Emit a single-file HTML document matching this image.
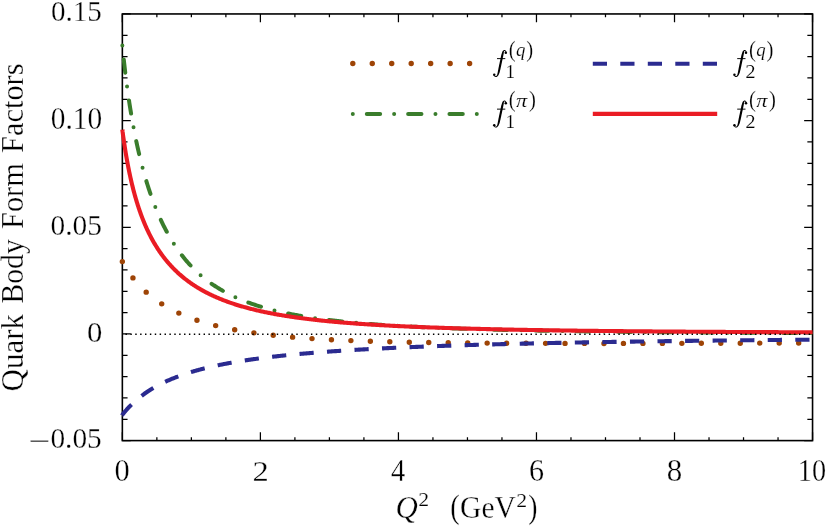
<!DOCTYPE html>
<html><head><meta charset="utf-8"><title>Quark Body Form Factors</title>
<style>html,body{margin:0;padding:0;background:#fff}svg{display:block;will-change:transform}text{font-family:"Liberation Serif",serif;fill:#000;stroke:#fff;stroke-width:0.28px}</style>
</head><body>
<svg width="829" height="527" viewBox="0 0 829 527">
<rect width="829" height="527" fill="#fff"/>
<g stroke="#000" fill="none">
<rect x="122.35" y="13.95" width="690.20" height="426.65" stroke-width="1.6"/>
<path d="M122.35,440.60v-8.4M122.35,13.95v8.4M156.86,440.60v-3.4M156.86,13.95v3.4M191.37,440.60v-3.4M191.37,13.95v3.4M225.88,440.60v-3.4M225.88,13.95v3.4M260.39,440.60v-8.4M260.39,13.95v8.4M294.90,440.60v-3.4M294.90,13.95v3.4M329.41,440.60v-3.4M329.41,13.95v3.4M363.92,440.60v-3.4M363.92,13.95v3.4M398.43,440.60v-8.4M398.43,13.95v8.4M432.94,440.60v-3.4M432.94,13.95v3.4M467.45,440.60v-3.4M467.45,13.95v3.4M501.96,440.60v-3.4M501.96,13.95v3.4M536.47,440.60v-8.4M536.47,13.95v8.4M570.98,440.60v-3.4M570.98,13.95v3.4M605.49,440.60v-3.4M605.49,13.95v3.4M640.00,440.60v-3.4M640.00,13.95v3.4M674.51,440.60v-8.4M674.51,13.95v8.4M709.02,440.60v-3.4M709.02,13.95v3.4M743.53,440.60v-3.4M743.53,13.95v3.4M778.04,440.60v-3.4M778.04,13.95v3.4M812.55,440.60v-8.4M812.55,13.95v8.4M122.35,440.60h8.4M812.55,440.60h-8.4M122.35,419.27h5.2M812.55,419.27h-5.2M122.35,397.94h5.2M812.55,397.94h-5.2M122.35,376.60h5.2M812.55,376.60h-5.2M122.35,355.27h5.2M812.55,355.27h-5.2M122.35,333.94h8.4M812.55,333.94h-8.4M122.35,312.61h5.2M812.55,312.61h-5.2M122.35,291.27h5.2M812.55,291.27h-5.2M122.35,269.94h5.2M812.55,269.94h-5.2M122.35,248.61h5.2M812.55,248.61h-5.2M122.35,227.28h8.4M812.55,227.28h-8.4M122.35,205.94h5.2M812.55,205.94h-5.2M122.35,184.61h5.2M812.55,184.61h-5.2M122.35,163.28h5.2M812.55,163.28h-5.2M122.35,141.94h5.2M812.55,141.94h-5.2M122.35,120.61h8.4M812.55,120.61h-8.4M122.35,99.28h5.2M812.55,99.28h-5.2M122.35,77.95h5.2M812.55,77.95h-5.2M122.35,56.62h5.2M812.55,56.62h-5.2M122.35,35.28h5.2M812.55,35.28h-5.2M122.35,13.95h8.4M812.55,13.95h-8.4" stroke-width="1.25"/>
</g>
<g fill="none" stroke-linejoin="round">
<path d="M122.35,261.61 L122.35,261.61 L122.36,261.62 L122.36,261.63 L122.37,261.65 L122.39,261.67 L122.40,261.70 L122.42,261.74 L122.44,261.77 L122.46,261.82 L122.49,261.87 L122.52,261.92 L122.55,261.98 L122.59,262.05 L122.63,262.12 L122.67,262.19 L122.71,262.27 L122.76,262.35 L122.81,262.44 L122.86,262.54 L122.92,262.64 L122.97,262.74 L123.03,262.85 L123.10,262.97 L123.16,263.08 L123.23,263.21 L123.30,263.34 L123.38,263.47 L123.46,263.61 L123.54,263.75 L123.62,263.90 L123.71,264.05 L123.80,264.20 L123.89,264.36 L123.98,264.53 L124.08,264.69 L124.18,264.87 L124.28,265.04 L124.39,265.23 L124.50,265.41 L124.61,265.60 L124.72,265.79 L124.84,265.99 L124.96,266.19 L125.08,266.40 L125.21,266.61 L125.34,266.82 L125.47,267.04 L125.60,267.26 L125.74,267.48 L125.88,267.71 L126.02,267.94 L126.17,268.17 L126.32,268.41 L126.47,268.65 L126.62,268.89 L126.78,269.14 L126.94,269.39 L127.10,269.64 L127.27,269.90 L127.44,270.16 L127.61,270.42 L127.78,270.68 L127.96,270.95 L128.14,271.22 L128.32,271.49 L128.50,271.77 L128.69,272.05 L128.88,272.33 L129.08,272.61 L129.27,272.89 L129.47,273.18 L129.67,273.47 L129.88,273.76 L130.09,274.05 L130.30,274.35 L130.51,274.65 L130.73,274.94 L130.94,275.25 L131.17,275.55 L131.39,275.85 L131.62,276.16 L131.85,276.47 L132.08,276.77 L132.32,277.09 L132.56,277.40 L132.80,277.71 L133.04,278.03 L133.29,278.34 L133.54,278.66 L133.79,278.98 L134.05,279.30 L134.31,279.62 L134.57,279.94 L134.83,280.26 L135.10,280.59 L135.37,280.91 L135.64,281.24 L135.92,281.56 L136.19,281.89 L136.48,282.22 L136.76,282.54 L137.05,282.87 L137.34,283.20 L137.63,283.53 L137.92,283.86 L138.22,284.19 L138.52,284.53 L138.83,284.86 L139.13,285.19 L139.44,285.52 L139.75,285.85 L140.07,286.19 L140.39,286.52 L140.71,286.85 L141.03,287.18 L141.36,287.52 L141.69,287.85 L142.02,288.18 L142.35,288.51 L142.69,288.85 L143.03,289.18 L143.38,289.51 L143.72,289.84 L144.07,290.18 L144.42,290.51 L144.78,290.84 L145.13,291.17 L145.49,291.50 L145.86,291.83 L146.22,292.16 L146.59,292.49 L146.96,292.82 L147.34,293.15 L147.71,293.48 L148.09,293.80 L148.48,294.13 L148.86,294.46 L149.25,294.78 L149.64,295.11 L150.04,295.43 L150.43,295.76 L150.83,296.08 L151.24,296.40 L151.64,296.72 L152.05,297.04 L152.46,297.36 L152.87,297.68 L153.29,298.00 L153.71,298.32 L154.13,298.64 L154.56,298.95 L154.99,299.27 L155.42,299.58 L155.85,299.90 L156.29,300.21 L156.73,300.52 L157.17,300.83 L157.61,301.14 L158.06,301.45 L158.51,301.75 L158.97,302.06 L159.42,302.37 L159.88,302.67 L160.34,302.97 L160.81,303.28 L161.28,303.58 L161.75,303.88 L162.22,304.18 L162.70,304.47 L163.17,304.77 L163.66,305.06 L164.14,305.36 L164.63,305.65 L165.12,305.94 L165.61,306.23 L166.11,306.52 L166.61,306.81 L167.11,307.10 L167.61,307.39 L168.12,307.67 L168.63,307.95 L169.14,308.24 L169.66,308.52 L170.18,308.80 L170.70,309.07 L171.22,309.35 L171.75,309.63 L172.28,309.90 L172.81,310.18 L173.35,310.45 L173.88,310.72 L174.42,310.99 L174.97,311.26 L175.51,311.52 L176.06,311.79 L176.62,312.05 L177.17,312.31 L177.73,312.58 L178.29,312.84 L178.85,313.09 L179.42,313.35 L179.99,313.61 L180.56,313.86 L181.14,314.12 L181.71,314.37 L182.30,314.62 L182.88,314.87 L183.46,315.12 L184.05,315.36 L184.65,315.61 L185.24,315.85 L185.84,316.09 L186.44,316.34 L187.04,316.58 L187.65,316.81 L188.26,317.05 L188.87,317.29 L189.48,317.52 L190.10,317.75 L190.72,317.99 L191.34,318.22 L191.97,318.44 L192.60,318.67 L193.23,318.90 L193.86,319.12 L194.50,319.35 L195.14,319.57 L195.78,319.79 L196.43,320.01 L197.08,320.23 L197.73,320.44 L198.38,320.66 L199.04,320.87 L199.70,321.08 L200.36,321.29 L201.03,321.50 L201.69,321.71 L202.37,321.92 L203.04,322.12 L203.72,322.33 L204.40,322.53 L205.08,322.73 L205.76,322.93 L206.45,323.13 L207.14,323.33 L207.84,323.53 L208.53,323.72 L209.23,323.91 L209.93,324.11 L210.64,324.30 L211.35,324.49 L212.06,324.67 L212.77,324.86 L213.49,325.05 L214.20,325.23 L214.93,325.41 L215.65,325.60 L216.38,325.78 L217.11,325.96 L217.84,326.13 L218.58,326.31 L219.32,326.48 L220.06,326.66 L220.80,326.83 L221.55,327.00 L222.30,327.17 L223.05,327.34 L223.81,327.51 L224.57,327.67 L225.33,327.84 L226.09,328.00 L226.86,328.17 L227.63,328.33 L228.40,328.49 L229.18,328.65 L229.96,328.80 L230.74,328.96 L231.52,329.11 L232.31,329.27 L233.10,329.42 L233.89,329.57 L234.69,329.72 L235.48,329.87 L236.29,330.02 L237.09,330.17 L237.90,330.31 L238.70,330.45 L239.52,330.60 L240.33,330.74 L241.15,330.88 L241.97,331.02 L242.79,331.16 L243.62,331.30 L244.45,331.43 L245.28,331.57 L246.12,331.70 L246.95,331.83 L247.79,331.96 L248.64,332.10 L249.48,332.22 L250.33,332.35 L251.19,332.48 L252.04,332.61 L252.90,332.73 L253.76,332.85 L254.62,332.98 L255.49,333.10 L256.36,333.22 L257.23,333.34 L258.10,333.46 L258.98,333.58 L259.86,333.69 L260.74,333.81 L261.63,333.92 L262.52,334.04 L263.41,334.15 L264.30,334.26 L265.20,334.37 L266.10,334.48 L267.00,334.59 L267.91,334.69 L268.81,334.80 L269.73,334.91 L270.64,335.01 L271.56,335.11 L272.48,335.22 L273.40,335.32 L274.32,335.42 L275.25,335.52 L276.18,335.62 L277.12,335.71 L278.05,335.81 L278.99,335.91 L279.93,336.00 L280.88,336.09 L281.83,336.19 L282.78,336.28 L283.73,336.37 L284.69,336.46 L285.65,336.55 L286.61,336.64 L287.57,336.73 L288.54,336.81 L289.51,336.90 L290.49,336.98 L291.46,337.07 L292.44,337.15 L293.42,337.23 L294.41,337.32 L295.39,337.40 L296.38,337.48 L297.38,337.56 L298.37,337.63 L299.37,337.71 L300.37,337.79 L301.38,337.86 L302.39,337.94 L303.40,338.01 L304.41,338.09 L305.42,338.16 L306.44,338.23 L307.46,338.30 L308.49,338.37 L309.51,338.44 L310.54,338.51 L311.58,338.58 L312.61,338.65 L313.65,338.72 L314.69,338.78 L315.74,338.85 L316.78,338.91 L317.83,338.98 L318.88,339.04 L319.94,339.10 L321.00,339.16 L322.06,339.23 L323.12,339.29 L324.19,339.35 L325.26,339.41 L326.33,339.46 L327.41,339.52 L328.48,339.58 L329.56,339.64 L330.65,339.69 L331.73,339.75 L332.82,339.80 L333.91,339.86 L335.01,339.91 L336.11,339.96 L337.21,340.01 L338.31,340.07 L339.42,340.12 L340.53,340.17 L341.64,340.22 L342.75,340.27 L343.87,340.32 L344.99,340.36 L346.11,340.41 L347.24,340.46 L348.37,340.50 L349.50,340.55 L350.63,340.60 L351.77,340.64 L352.91,340.68 L354.05,340.73 L355.20,340.77 L356.35,340.81 L357.50,340.86 L358.65,340.90 L359.81,340.94 L360.97,340.98 L362.13,341.02 L363.30,341.06 L364.46,341.10 L365.64,341.14 L366.81,341.17 L367.99,341.21 L369.17,341.25 L370.35,341.29 L371.53,341.32 L372.72,341.36 L373.91,341.39 L375.11,341.43 L376.30,341.46 L377.50,341.50 L378.70,341.53 L379.91,341.56 L381.12,341.59 L382.33,341.63 L383.54,341.66 L384.76,341.69 L385.98,341.72 L387.20,341.75 L388.42,341.78 L389.65,341.81 L390.88,341.84 L392.11,341.87 L393.35,341.90 L394.59,341.92 L395.83,341.95 L397.07,341.98 L398.32,342.01 L399.57,342.03 L400.83,342.06 L402.08,342.09 L403.34,342.11 L404.60,342.14 L405.87,342.16 L407.13,342.19 L408.40,342.21 L409.68,342.23 L410.95,342.26 L412.23,342.28 L413.51,342.30 L414.79,342.32 L416.08,342.35 L417.37,342.37 L418.66,342.39 L419.96,342.41 L421.26,342.43 L422.56,342.45 L423.86,342.47 L425.17,342.49 L426.48,342.51 L427.79,342.53 L429.11,342.55 L430.42,342.57 L431.74,342.59 L433.07,342.61 L434.39,342.62 L435.72,342.64 L437.06,342.66 L438.39,342.67 L439.73,342.69 L441.07,342.71 L442.41,342.72 L443.76,342.74 L445.11,342.76 L446.46,342.77 L447.81,342.79 L449.17,342.80 L450.53,342.82 L451.90,342.83 L453.26,342.85 L454.63,342.86 L456.00,342.87 L457.38,342.89 L458.75,342.90 L460.13,342.91 L461.52,342.93 L462.90,342.94 L464.29,342.95 L465.68,342.96 L467.08,342.98 L468.47,342.99 L469.87,343.00 L471.28,343.01 L472.68,343.02 L474.09,343.03 L475.50,343.04 L476.92,343.05 L478.33,343.06 L479.75,343.07 L481.17,343.08 L482.60,343.09 L484.03,343.10 L485.46,343.11 L486.89,343.12 L488.33,343.13 L489.77,343.14 L491.21,343.15 L492.66,343.16 L494.10,343.17 L495.55,343.17 L497.01,343.18 L498.46,343.19 L499.92,343.20 L501.39,343.21 L502.85,343.21 L504.32,343.22 L505.79,343.23 L507.26,343.24 L508.74,343.24 L510.22,343.25 L511.70,343.26 L513.18,343.26 L514.67,343.27 L516.16,343.27 L517.65,343.28 L519.15,343.29 L520.65,343.29 L522.15,343.30 L523.66,343.30 L525.16,343.31 L526.67,343.31 L528.19,343.32 L529.70,343.32 L531.22,343.33 L532.74,343.33 L534.27,343.34 L535.79,343.34 L537.32,343.35 L538.86,343.35 L540.39,343.35 L541.93,343.36 L543.47,343.36 L545.01,343.37 L546.56,343.37 L548.11,343.37 L549.66,343.38 L551.22,343.38 L552.78,343.38 L554.34,343.38 L555.90,343.39 L557.47,343.39 L559.04,343.39 L560.61,343.40 L562.18,343.40 L563.76,343.40 L565.34,343.40 L566.93,343.41 L568.51,343.41 L570.10,343.41 L571.69,343.41 L573.29,343.41 L574.89,343.41 L576.49,343.42 L578.09,343.42 L579.70,343.42 L581.31,343.42 L582.92,343.42 L584.53,343.42 L586.15,343.42 L587.77,343.42 L589.39,343.43 L591.02,343.43 L592.65,343.43 L594.28,343.43 L595.91,343.43 L597.55,343.43 L599.19,343.43 L600.83,343.43 L602.48,343.43 L604.13,343.43 L605.78,343.43 L607.43,343.43 L609.09,343.43 L610.75,343.43 L612.41,343.43 L614.08,343.43 L615.75,343.43 L617.42,343.43 L619.09,343.43 L620.77,343.43 L622.45,343.43 L624.13,343.42 L625.81,343.42 L627.50,343.42 L629.19,343.42 L630.89,343.42 L632.58,343.42 L634.28,343.42 L635.99,343.42 L637.69,343.41 L639.40,343.41 L641.11,343.41 L642.82,343.41 L644.54,343.41 L646.26,343.41 L647.98,343.40 L649.70,343.40 L651.43,343.40 L653.16,343.40 L654.90,343.39 L656.63,343.39 L658.37,343.39 L660.11,343.39 L661.86,343.38 L663.60,343.38 L665.36,343.38 L667.11,343.38 L668.86,343.37 L670.62,343.37 L672.38,343.37 L674.15,343.36 L675.92,343.36 L677.69,343.36 L679.46,343.35 L681.23,343.35 L683.01,343.35 L684.79,343.34 L686.58,343.34 L688.37,343.33 L690.15,343.33 L691.95,343.33 L693.74,343.32 L695.54,343.32 L697.34,343.31 L699.15,343.31 L700.95,343.31 L702.76,343.30 L704.57,343.30 L706.39,343.29 L708.21,343.29 L710.03,343.28 L711.85,343.28 L713.68,343.27 L715.51,343.27 L717.34,343.26 L719.18,343.26 L721.01,343.25 L722.85,343.25 L724.70,343.24 L726.54,343.23 L728.39,343.23 L730.24,343.22 L732.10,343.22 L733.96,343.21 L735.82,343.20 L737.68,343.20 L739.55,343.19 L741.42,343.18 L743.29,343.18 L745.16,343.17 L747.04,343.16 L748.92,343.16 L750.80,343.15 L752.69,343.14 L754.58,343.14 L756.47,343.13 L758.36,343.12 L760.26,343.11 L762.16,343.11 L764.06,343.10 L765.97,343.09 L767.88,343.08 L769.79,343.08 L771.70,343.07 L773.62,343.06 L775.54,343.05 L777.46,343.04 L779.39,343.03 L781.31,343.03 L783.25,343.02 L785.18,343.01 L787.12,343.00 L789.06,342.99 L791.00,342.98 L792.94,342.97 L794.89,342.96 L796.84,342.95 L798.80,342.94 L800.75,342.93 L802.71,342.92 L804.67,342.91 L806.64,342.90 L808.61,342.89 L810.58,342.88 L812.55,342.87" stroke="#9e4406" stroke-width="5.4" stroke-linecap="round" stroke-dasharray="0 19.47"/>
<path d="M122.35,414.76 L122.35,414.76 L122.36,414.76 L122.36,414.75 L122.37,414.73 L122.39,414.72 L122.40,414.70 L122.42,414.68 L122.44,414.65 L122.46,414.62 L122.49,414.59 L122.52,414.55 L122.55,414.51 L122.59,414.46 L122.63,414.41 L122.67,414.36 L122.71,414.31 L122.76,414.25 L122.81,414.19 L122.86,414.12 L122.92,414.05 L122.97,413.98 L123.03,413.91 L123.10,413.83 L123.16,413.75 L123.23,413.66 L123.30,413.57 L123.38,413.48 L123.46,413.38 L123.54,413.29 L123.62,413.18 L123.71,413.08 L123.80,412.97 L123.89,412.86 L123.98,412.75 L124.08,412.63 L124.18,412.51 L124.28,412.38 L124.39,412.26 L124.50,412.13 L124.61,412.00 L124.72,411.86 L124.84,411.72 L124.96,411.58 L125.08,411.44 L125.21,411.29 L125.34,411.14 L125.47,410.99 L125.60,410.83 L125.74,410.68 L125.88,410.52 L126.02,410.35 L126.17,410.19 L126.32,410.02 L126.47,409.85 L126.62,409.68 L126.78,409.50 L126.94,409.33 L127.10,409.15 L127.27,408.96 L127.44,408.78 L127.61,408.59 L127.78,408.40 L127.96,408.21 L128.14,408.02 L128.32,407.83 L128.50,407.63 L128.69,407.43 L128.88,407.23 L129.08,407.03 L129.27,406.82 L129.47,406.62 L129.67,406.41 L129.88,406.20 L130.09,405.99 L130.30,405.77 L130.51,405.56 L130.73,405.34 L130.94,405.12 L131.17,404.90 L131.39,404.68 L131.62,404.46 L131.85,404.23 L132.08,404.01 L132.32,403.78 L132.56,403.55 L132.80,403.33 L133.04,403.10 L133.29,402.86 L133.54,402.63 L133.79,402.40 L134.05,402.16 L134.31,401.93 L134.57,401.69 L134.83,401.45 L135.10,401.21 L135.37,400.97 L135.64,400.73 L135.92,400.49 L136.19,400.25 L136.48,400.01 L136.76,399.76 L137.05,399.52 L137.34,399.27 L137.63,399.03 L137.92,398.78 L138.22,398.53 L138.52,398.29 L138.83,398.04 L139.13,397.79 L139.44,397.54 L139.75,397.29 L140.07,397.04 L140.39,396.80 L140.71,396.55 L141.03,396.30 L141.36,396.04 L141.69,395.79 L142.02,395.54 L142.35,395.29 L142.69,395.04 L143.03,394.79 L143.38,394.54 L143.72,394.29 L144.07,394.03 L144.42,393.78 L144.78,393.53 L145.13,393.28 L145.49,393.03 L145.86,392.78 L146.22,392.53 L146.59,392.28 L146.96,392.02 L147.34,391.77 L147.71,391.52 L148.09,391.27 L148.48,391.02 L148.86,390.77 L149.25,390.52 L149.64,390.27 L150.04,390.02 L150.43,389.78 L150.83,389.53 L151.24,389.28 L151.64,389.03 L152.05,388.79 L152.46,388.54 L152.87,388.29 L153.29,388.05 L153.71,387.80 L154.13,387.56 L154.56,387.31 L154.99,387.07 L155.42,386.82 L155.85,386.58 L156.29,386.34 L156.73,386.10 L157.17,385.86 L157.61,385.62 L158.06,385.38 L158.51,385.14 L158.97,384.90 L159.42,384.66 L159.88,384.42 L160.34,384.19 L160.81,383.95 L161.28,383.71 L161.75,383.48 L162.22,383.25 L162.70,383.01 L163.17,382.78 L163.66,382.55 L164.14,382.32 L164.63,382.09 L165.12,381.86 L165.61,381.63 L166.11,381.40 L166.61,381.17 L167.11,380.95 L167.61,380.72 L168.12,380.49 L168.63,380.27 L169.14,380.05 L169.66,379.82 L170.18,379.60 L170.70,379.38 L171.22,379.16 L171.75,378.94 L172.28,378.72 L172.81,378.51 L173.35,378.29 L173.88,378.07 L174.42,377.86 L174.97,377.65 L175.51,377.43 L176.06,377.22 L176.62,377.01 L177.17,376.80 L177.73,376.59 L178.29,376.38 L178.85,376.17 L179.42,375.96 L179.99,375.76 L180.56,375.55 L181.14,375.35 L181.71,375.14 L182.30,374.94 L182.88,374.74 L183.46,374.54 L184.05,374.34 L184.65,374.14 L185.24,373.94 L185.84,373.74 L186.44,373.55 L187.04,373.35 L187.65,373.16 L188.26,372.96 L188.87,372.77 L189.48,372.58 L190.10,372.39 L190.72,372.20 L191.34,372.01 L191.97,371.82 L192.60,371.63 L193.23,371.45 L193.86,371.26 L194.50,371.08 L195.14,370.89 L195.78,370.71 L196.43,370.53 L197.08,370.35 L197.73,370.17 L198.38,369.99 L199.04,369.81 L199.70,369.63 L200.36,369.46 L201.03,369.28 L201.69,369.11 L202.37,368.93 L203.04,368.76 L203.72,368.59 L204.40,368.41 L205.08,368.24 L205.76,368.07 L206.45,367.91 L207.14,367.74 L207.84,367.57 L208.53,367.41 L209.23,367.24 L209.93,367.08 L210.64,366.91 L211.35,366.75 L212.06,366.59 L212.77,366.43 L213.49,366.27 L214.20,366.11 L214.93,365.95 L215.65,365.79 L216.38,365.63 L217.11,365.48 L217.84,365.32 L218.58,365.17 L219.32,365.02 L220.06,364.86 L220.80,364.71 L221.55,364.56 L222.30,364.41 L223.05,364.26 L223.81,364.11 L224.57,363.97 L225.33,363.82 L226.09,363.67 L226.86,363.53 L227.63,363.38 L228.40,363.24 L229.18,363.10 L229.96,362.95 L230.74,362.81 L231.52,362.67 L232.31,362.53 L233.10,362.39 L233.89,362.25 L234.69,362.12 L235.48,361.98 L236.29,361.84 L237.09,361.71 L237.90,361.57 L238.70,361.44 L239.52,361.31 L240.33,361.17 L241.15,361.04 L241.97,360.91 L242.79,360.78 L243.62,360.65 L244.45,360.52 L245.28,360.40 L246.12,360.27 L246.95,360.14 L247.79,360.02 L248.64,359.89 L249.48,359.77 L250.33,359.64 L251.19,359.52 L252.04,359.40 L252.90,359.28 L253.76,359.15 L254.62,359.03 L255.49,358.91 L256.36,358.80 L257.23,358.68 L258.10,358.56 L258.98,358.44 L259.86,358.33 L260.74,358.21 L261.63,358.10 L262.52,357.98 L263.41,357.87 L264.30,357.75 L265.20,357.64 L266.10,357.53 L267.00,357.42 L267.91,357.31 L268.81,357.20 L269.73,357.09 L270.64,356.98 L271.56,356.87 L272.48,356.77 L273.40,356.66 L274.32,356.55 L275.25,356.45 L276.18,356.34 L277.12,356.24 L278.05,356.13 L278.99,356.03 L279.93,355.93 L280.88,355.82 L281.83,355.72 L282.78,355.62 L283.73,355.52 L284.69,355.42 L285.65,355.32 L286.61,355.22 L287.57,355.13 L288.54,355.03 L289.51,354.93 L290.49,354.84 L291.46,354.74 L292.44,354.64 L293.42,354.55 L294.41,354.45 L295.39,354.36 L296.38,354.27 L297.38,354.18 L298.37,354.08 L299.37,353.99 L300.37,353.90 L301.38,353.81 L302.39,353.72 L303.40,353.63 L304.41,353.54 L305.42,353.45 L306.44,353.36 L307.46,353.28 L308.49,353.19 L309.51,353.10 L310.54,353.02 L311.58,352.93 L312.61,352.85 L313.65,352.76 L314.69,352.68 L315.74,352.59 L316.78,352.51 L317.83,352.43 L318.88,352.34 L319.94,352.26 L321.00,352.18 L322.06,352.10 L323.12,352.02 L324.19,351.94 L325.26,351.86 L326.33,351.78 L327.41,351.70 L328.48,351.62 L329.56,351.55 L330.65,351.47 L331.73,351.39 L332.82,351.32 L333.91,351.24 L335.01,351.16 L336.11,351.09 L337.21,351.01 L338.31,350.94 L339.42,350.87 L340.53,350.79 L341.64,350.72 L342.75,350.65 L343.87,350.57 L344.99,350.50 L346.11,350.43 L347.24,350.36 L348.37,350.29 L349.50,350.22 L350.63,350.15 L351.77,350.08 L352.91,350.01 L354.05,349.94 L355.20,349.87 L356.35,349.80 L357.50,349.74 L358.65,349.67 L359.81,349.60 L360.97,349.54 L362.13,349.47 L363.30,349.40 L364.46,349.34 L365.64,349.27 L366.81,349.21 L367.99,349.15 L369.17,349.08 L370.35,349.02 L371.53,348.95 L372.72,348.89 L373.91,348.83 L375.11,348.77 L376.30,348.70 L377.50,348.64 L378.70,348.58 L379.91,348.52 L381.12,348.46 L382.33,348.40 L383.54,348.34 L384.76,348.28 L385.98,348.22 L387.20,348.16 L388.42,348.10 L389.65,348.05 L390.88,347.99 L392.11,347.93 L393.35,347.87 L394.59,347.82 L395.83,347.76 L397.07,347.70 L398.32,347.65 L399.57,347.59 L400.83,347.54 L402.08,347.48 L403.34,347.43 L404.60,347.37 L405.87,347.32 L407.13,347.26 L408.40,347.21 L409.68,347.16 L410.95,347.10 L412.23,347.05 L413.51,347.00 L414.79,346.94 L416.08,346.89 L417.37,346.84 L418.66,346.79 L419.96,346.74 L421.26,346.69 L422.56,346.64 L423.86,346.59 L425.17,346.54 L426.48,346.49 L427.79,346.44 L429.11,346.39 L430.42,346.34 L431.74,346.29 L433.07,346.24 L434.39,346.19 L435.72,346.14 L437.06,346.10 L438.39,346.05 L439.73,346.00 L441.07,345.96 L442.41,345.91 L443.76,345.86 L445.11,345.82 L446.46,345.77 L447.81,345.72 L449.17,345.68 L450.53,345.63 L451.90,345.59 L453.26,345.54 L454.63,345.50 L456.00,345.45 L457.38,345.41 L458.75,345.37 L460.13,345.32 L461.52,345.28 L462.90,345.24 L464.29,345.19 L465.68,345.15 L467.08,345.11 L468.47,345.07 L469.87,345.02 L471.28,344.98 L472.68,344.94 L474.09,344.90 L475.50,344.86 L476.92,344.82 L478.33,344.78 L479.75,344.74 L481.17,344.70 L482.60,344.66 L484.03,344.62 L485.46,344.58 L486.89,344.54 L488.33,344.50 L489.77,344.46 L491.21,344.42 L492.66,344.38 L494.10,344.34 L495.55,344.30 L497.01,344.27 L498.46,344.23 L499.92,344.19 L501.39,344.15 L502.85,344.12 L504.32,344.08 L505.79,344.04 L507.26,344.00 L508.74,343.97 L510.22,343.93 L511.70,343.90 L513.18,343.86 L514.67,343.82 L516.16,343.79 L517.65,343.75 L519.15,343.72 L520.65,343.68 L522.15,343.65 L523.66,343.61 L525.16,343.58 L526.67,343.54 L528.19,343.51 L529.70,343.47 L531.22,343.44 L532.74,343.41 L534.27,343.37 L535.79,343.34 L537.32,343.31 L538.86,343.27 L540.39,343.24 L541.93,343.21 L543.47,343.18 L545.01,343.14 L546.56,343.11 L548.11,343.08 L549.66,343.05 L551.22,343.02 L552.78,342.98 L554.34,342.95 L555.90,342.92 L557.47,342.89 L559.04,342.86 L560.61,342.83 L562.18,342.80 L563.76,342.77 L565.34,342.74 L566.93,342.71 L568.51,342.68 L570.10,342.65 L571.69,342.62 L573.29,342.59 L574.89,342.56 L576.49,342.53 L578.09,342.50 L579.70,342.47 L581.31,342.44 L582.92,342.41 L584.53,342.38 L586.15,342.36 L587.77,342.33 L589.39,342.30 L591.02,342.27 L592.65,342.24 L594.28,342.22 L595.91,342.19 L597.55,342.16 L599.19,342.13 L600.83,342.11 L602.48,342.08 L604.13,342.05 L605.78,342.02 L607.43,342.00 L609.09,341.97 L610.75,341.94 L612.41,341.92 L614.08,341.89 L615.75,341.87 L617.42,341.84 L619.09,341.81 L620.77,341.79 L622.45,341.76 L624.13,341.74 L625.81,341.71 L627.50,341.69 L629.19,341.66 L630.89,341.64 L632.58,341.61 L634.28,341.59 L635.99,341.56 L637.69,341.54 L639.40,341.51 L641.11,341.49 L642.82,341.46 L644.54,341.44 L646.26,341.42 L647.98,341.39 L649.70,341.37 L651.43,341.35 L653.16,341.32 L654.90,341.30 L656.63,341.28 L658.37,341.25 L660.11,341.23 L661.86,341.21 L663.60,341.18 L665.36,341.16 L667.11,341.14 L668.86,341.12 L670.62,341.09 L672.38,341.07 L674.15,341.05 L675.92,341.03 L677.69,341.00 L679.46,340.98 L681.23,340.96 L683.01,340.94 L684.79,340.92 L686.58,340.90 L688.37,340.87 L690.15,340.85 L691.95,340.83 L693.74,340.81 L695.54,340.79 L697.34,340.77 L699.15,340.75 L700.95,340.73 L702.76,340.71 L704.57,340.69 L706.39,340.67 L708.21,340.64 L710.03,340.62 L711.85,340.60 L713.68,340.58 L715.51,340.56 L717.34,340.54 L719.18,340.52 L721.01,340.51 L722.85,340.49 L724.70,340.47 L726.54,340.45 L728.39,340.43 L730.24,340.41 L732.10,340.39 L733.96,340.37 L735.82,340.35 L737.68,340.33 L739.55,340.31 L741.42,340.29 L743.29,340.28 L745.16,340.26 L747.04,340.24 L748.92,340.22 L750.80,340.20 L752.69,340.18 L754.58,340.17 L756.47,340.15 L758.36,340.13 L760.26,340.11 L762.16,340.09 L764.06,340.08 L765.97,340.06 L767.88,340.04 L769.79,340.02 L771.70,340.01 L773.62,339.99 L775.54,339.97 L777.46,339.95 L779.39,339.94 L781.31,339.92 L783.25,339.90 L785.18,339.89 L787.12,339.87 L789.06,339.85 L791.00,339.83 L792.94,339.82 L794.89,339.80 L796.84,339.79 L798.80,339.77 L800.75,339.75 L802.71,339.74 L804.67,339.72 L806.64,339.70 L808.61,339.69 L810.58,339.67 L812.55,339.66" stroke="#2b2b90" stroke-width="4.1" stroke-dasharray="14.23 13.33" stroke-dashoffset="0.55"/>
<path d="M122.35,45.50 L122.35,45.51 L122.36,45.56 L122.36,45.63 L122.37,45.73 L122.39,45.86 L122.40,46.02 L122.42,46.21 L122.44,46.43 L122.46,46.68 L122.49,46.95 L122.52,47.26 L122.55,47.59 L122.59,47.95 L122.63,48.33 L122.67,48.75 L122.71,49.19 L122.76,49.66 L122.81,50.15 L122.86,50.67 L122.92,51.22 L122.97,51.79 L123.03,52.39 L123.10,53.01 L123.16,53.66 L123.23,54.33 L123.30,55.02 L123.38,55.74 L123.46,56.48 L123.54,57.24 L123.62,58.03 L123.71,58.83 L123.80,59.66 L123.89,60.51 L123.98,61.37 L124.08,62.26 L124.18,63.17 L124.28,64.09 L124.39,65.04 L124.50,66.00 L124.61,66.98 L124.72,67.98 L124.84,68.99 L124.96,70.02 L125.08,71.06 L125.21,72.12 L125.34,73.19 L125.47,74.28 L125.60,75.38 L125.74,76.50 L125.88,77.62 L126.02,78.76 L126.17,79.91 L126.32,81.08 L126.47,82.25 L126.62,83.44 L126.78,84.63 L126.94,85.84 L127.10,87.05 L127.27,88.27 L127.44,89.51 L127.61,90.75 L127.78,91.99 L127.96,93.25 L128.14,94.51 L128.32,95.78 L128.50,97.06 L128.69,98.34 L128.88,99.63 L129.08,100.92 L129.27,102.22 L129.47,103.52 L129.67,104.83 L129.88,106.14 L130.09,107.45 L130.30,108.77 L130.51,110.09 L130.73,111.42 L130.94,112.75 L131.17,114.08 L131.39,115.41 L131.62,116.74 L131.85,118.08 L132.08,119.41 L132.32,120.75 L132.56,122.09 L132.80,123.43 L133.04,124.77 L133.29,126.11 L133.54,127.46 L133.79,128.80 L134.05,130.14 L134.31,131.48 L134.57,132.82 L134.83,134.16 L135.10,135.50 L135.37,136.83 L135.64,138.17 L135.92,139.50 L136.19,140.84 L136.48,142.17 L136.76,143.50 L137.05,144.82 L137.34,146.15 L137.63,147.47 L137.92,148.79 L138.22,150.11 L138.52,151.42 L138.83,152.73 L139.13,154.04 L139.44,155.35 L139.75,156.65 L140.07,157.95 L140.39,159.24 L140.71,160.54 L141.03,161.82 L141.36,163.11 L141.69,164.39 L142.02,165.66 L142.35,166.94 L142.69,168.20 L143.03,169.47 L143.38,170.73 L143.72,171.98 L144.07,173.23 L144.42,174.48 L144.78,175.72 L145.13,176.96 L145.49,178.19 L145.86,179.41 L146.22,180.64 L146.59,181.85 L146.96,183.06 L147.34,184.27 L147.71,185.47 L148.09,186.67 L148.48,187.86 L148.86,189.04 L149.25,190.22 L149.64,191.39 L150.04,192.56 L150.43,193.73 L150.83,194.88 L151.24,196.03 L151.64,197.18 L152.05,198.32 L152.46,199.45 L152.87,200.58 L153.29,201.70 L153.71,202.82 L154.13,203.92 L154.56,205.03 L154.99,206.13 L155.42,207.22 L155.85,208.30 L156.29,209.38 L156.73,210.45 L157.17,211.52 L157.61,212.58 L158.06,213.63 L158.51,214.68 L158.97,215.72 L159.42,216.75 L159.88,217.78 L160.34,218.80 L160.81,219.82 L161.28,220.83 L161.75,221.83 L162.22,222.82 L162.70,223.81 L163.17,224.79 L163.66,225.77 L164.14,226.74 L164.63,227.70 L165.12,228.66 L165.61,229.61 L166.11,230.55 L166.61,231.49 L167.11,232.42 L167.61,233.34 L168.12,234.26 L168.63,235.17 L169.14,236.07 L169.66,236.97 L170.18,237.86 L170.70,238.75 L171.22,239.62 L171.75,240.49 L172.28,241.36 L172.81,242.22 L173.35,243.07 L173.88,243.91 L174.42,244.75 L174.97,245.58 L175.51,246.41 L176.06,247.23 L176.62,248.04 L177.17,248.85 L177.73,249.65 L178.29,250.44 L178.85,251.23 L179.42,252.01 L179.99,252.79 L180.56,253.55 L181.14,254.32 L181.71,255.07 L182.30,255.82 L182.88,256.56 L183.46,257.30 L184.05,258.03 L184.65,258.76 L185.24,259.48 L185.84,260.19 L186.44,260.90 L187.04,261.60 L187.65,262.29 L188.26,262.98 L188.87,263.66 L189.48,264.34 L190.10,265.01 L190.72,265.68 L191.34,266.34 L191.97,266.99 L192.60,267.64 L193.23,268.28 L193.86,268.92 L194.50,269.55 L195.14,270.17 L195.78,270.79 L196.43,271.40 L197.08,272.01 L197.73,272.62 L198.38,273.21 L199.04,273.81 L199.70,274.39 L200.36,274.97 L201.03,275.55 L201.69,276.12 L202.37,276.69 L203.04,277.25 L203.72,277.80 L204.40,278.35 L205.08,278.89 L205.76,279.43 L206.45,279.97 L207.14,280.50 L207.84,281.02 L208.53,281.54 L209.23,282.06 L209.93,282.57 L210.64,283.07 L211.35,283.57 L212.06,284.07 L212.77,284.56 L213.49,285.04 L214.20,285.52 L214.93,286.00 L215.65,286.47 L216.38,286.94 L217.11,287.40 L217.84,287.86 L218.58,288.32 L219.32,288.77 L220.06,289.21 L220.80,289.65 L221.55,290.09 L222.30,290.52 L223.05,290.95 L223.81,291.37 L224.57,291.79 L225.33,292.21 L226.09,292.62 L226.86,293.03 L227.63,293.43 L228.40,293.83 L229.18,294.23 L229.96,294.62 L230.74,295.01 L231.52,295.39 L232.31,295.77 L233.10,296.15 L233.89,296.52 L234.69,296.89 L235.48,297.25 L236.29,297.62 L237.09,297.97 L237.90,298.33 L238.70,298.68 L239.52,299.03 L240.33,299.37 L241.15,299.71 L241.97,300.05 L242.79,300.38 L243.62,300.71 L244.45,301.04 L245.28,301.36 L246.12,301.68 L246.95,302.00 L247.79,302.31 L248.64,302.62 L249.48,302.93 L250.33,303.24 L251.19,303.54 L252.04,303.84 L252.90,304.13 L253.76,304.42 L254.62,304.71 L255.49,305.00 L256.36,305.28 L257.23,305.56 L258.10,305.84 L258.98,306.12 L259.86,306.39 L260.74,306.66 L261.63,306.92 L262.52,307.19 L263.41,307.45 L264.30,307.71 L265.20,307.96 L266.10,308.22 L267.00,308.47 L267.91,308.72 L268.81,308.96 L269.73,309.21 L270.64,309.45 L271.56,309.68 L272.48,309.92 L273.40,310.15 L274.32,310.38 L275.25,310.61 L276.18,310.84 L277.12,311.06 L278.05,311.29 L278.99,311.51 L279.93,311.72 L280.88,311.94 L281.83,312.15 L282.78,312.36 L283.73,312.57 L284.69,312.78 L285.65,312.98 L286.61,313.18 L287.57,313.38 L288.54,313.58 L289.51,313.78 L290.49,313.97 L291.46,314.16 L292.44,314.35 L293.42,314.54 L294.41,314.73 L295.39,314.91 L296.38,315.09 L297.38,315.28 L298.37,315.45 L299.37,315.63 L300.37,315.81 L301.38,315.98 L302.39,316.15 L303.40,316.32 L304.41,316.49 L305.42,316.66 L306.44,316.82 L307.46,316.98 L308.49,317.15 L309.51,317.31 L310.54,317.46 L311.58,317.62 L312.61,317.78 L313.65,317.93 L314.69,318.08 L315.74,318.23 L316.78,318.38 L317.83,318.53 L318.88,318.67 L319.94,318.82 L321.00,318.96 L322.06,319.10 L323.12,319.24 L324.19,319.38 L325.26,319.52 L326.33,319.65 L327.41,319.79 L328.48,319.92 L329.56,320.05 L330.65,320.18 L331.73,320.31 L332.82,320.44 L333.91,320.57 L335.01,320.69 L336.11,320.82 L337.21,320.94 L338.31,321.06 L339.42,321.18 L340.53,321.30 L341.64,321.42 L342.75,321.54 L343.87,321.65 L344.99,321.77 L346.11,321.88 L347.24,321.99 L348.37,322.10 L349.50,322.21 L350.63,322.32 L351.77,322.43 L352.91,322.54 L354.05,322.64 L355.20,322.75 L356.35,322.85 L357.50,322.95 L358.65,323.05 L359.81,323.15 L360.97,323.25 L362.13,323.35 L363.30,323.45 L364.46,323.55 L365.64,323.64 L366.81,323.74 L367.99,323.83 L369.17,323.92 L370.35,324.02 L371.53,324.11 L372.72,324.20 L373.91,324.29 L375.11,324.38 L376.30,324.46 L377.50,324.55 L378.70,324.64 L379.91,324.72 L381.12,324.80 L382.33,324.89 L383.54,324.97 L384.76,325.05 L385.98,325.13 L387.20,325.21 L388.42,325.29 L389.65,325.37 L390.88,325.45 L392.11,325.53 L393.35,325.60 L394.59,325.68 L395.83,325.75 L397.07,325.83 L398.32,325.90 L399.57,325.97 L400.83,326.04 L402.08,326.12 L403.34,326.19 L404.60,326.26 L405.87,326.33 L407.13,326.39 L408.40,326.46 L409.68,326.53 L410.95,326.60 L412.23,326.66 L413.51,326.73 L414.79,326.79 L416.08,326.86 L417.37,326.92 L418.66,326.98 L419.96,327.05 L421.26,327.11 L422.56,327.17 L423.86,327.23 L425.17,327.29 L426.48,327.35 L427.79,327.41 L429.11,327.46 L430.42,327.52 L431.74,327.58 L433.07,327.64 L434.39,327.69 L435.72,327.75 L437.06,327.80 L438.39,327.86 L439.73,327.91 L441.07,327.96 L442.41,328.02 L443.76,328.07 L445.11,328.12 L446.46,328.17 L447.81,328.22 L449.17,328.28 L450.53,328.33 L451.90,328.37 L453.26,328.42 L454.63,328.47 L456.00,328.52 L457.38,328.57 L458.75,328.62 L460.13,328.66 L461.52,328.71 L462.90,328.76 L464.29,328.80 L465.68,328.85 L467.08,328.89 L468.47,328.93 L469.87,328.98 L471.28,329.02 L472.68,329.07 L474.09,329.11 L475.50,329.15 L476.92,329.19 L478.33,329.23 L479.75,329.27 L481.17,329.32 L482.60,329.36 L484.03,329.40 L485.46,329.44 L486.89,329.47 L488.33,329.51 L489.77,329.55 L491.21,329.59 L492.66,329.63 L494.10,329.67 L495.55,329.70 L497.01,329.74 L498.46,329.78 L499.92,329.81 L501.39,329.85 L502.85,329.88 L504.32,329.92 L505.79,329.95 L507.26,329.99 L508.74,330.02 L510.22,330.06 L511.70,330.09 L513.18,330.12 L514.67,330.16 L516.16,330.19 L517.65,330.22 L519.15,330.25 L520.65,330.29 L522.15,330.32 L523.66,330.35 L525.16,330.38 L526.67,330.41 L528.19,330.44 L529.70,330.47 L531.22,330.50 L532.74,330.53 L534.27,330.56 L535.79,330.59 L537.32,330.62 L538.86,330.65 L540.39,330.67 L541.93,330.70 L543.47,330.73 L545.01,330.76 L546.56,330.78 L548.11,330.81 L549.66,330.84 L551.22,330.86 L552.78,330.89 L554.34,330.92 L555.90,330.94 L557.47,330.97 L559.04,330.99 L560.61,331.02 L562.18,331.04 L563.76,331.07 L565.34,331.09 L566.93,331.12 L568.51,331.14 L570.10,331.17 L571.69,331.19 L573.29,331.21 L574.89,331.24 L576.49,331.26 L578.09,331.28 L579.70,331.30 L581.31,331.33 L582.92,331.35 L584.53,331.37 L586.15,331.39 L587.77,331.42 L589.39,331.44 L591.02,331.46 L592.65,331.48 L594.28,331.50 L595.91,331.52 L597.55,331.54 L599.19,331.56 L600.83,331.58 L602.48,331.60 L604.13,331.62 L605.78,331.64 L607.43,331.66 L609.09,331.68 L610.75,331.70 L612.41,331.72 L614.08,331.74 L615.75,331.76 L617.42,331.77 L619.09,331.79 L620.77,331.81 L622.45,331.83 L624.13,331.85 L625.81,331.86 L627.50,331.88 L629.19,331.90 L630.89,331.92 L632.58,331.93 L634.28,331.95 L635.99,331.97 L637.69,331.98 L639.40,332.00 L641.11,332.02 L642.82,332.03 L644.54,332.05 L646.26,332.07 L647.98,332.08 L649.70,332.10 L651.43,332.11 L653.16,332.13 L654.90,332.14 L656.63,332.16 L658.37,332.17 L660.11,332.19 L661.86,332.20 L663.60,332.22 L665.36,332.23 L667.11,332.25 L668.86,332.26 L670.62,332.27 L672.38,332.29 L674.15,332.30 L675.92,332.32 L677.69,332.33 L679.46,332.34 L681.23,332.36 L683.01,332.37 L684.79,332.38 L686.58,332.40 L688.37,332.41 L690.15,332.42 L691.95,332.44 L693.74,332.45 L695.54,332.46 L697.34,332.47 L699.15,332.49 L700.95,332.50 L702.76,332.51 L704.57,332.52 L706.39,332.53 L708.21,332.55 L710.03,332.56 L711.85,332.57 L713.68,332.58 L715.51,332.59 L717.34,332.60 L719.18,332.61 L721.01,332.63 L722.85,332.64 L724.70,332.65 L726.54,332.66 L728.39,332.67 L730.24,332.68 L732.10,332.69 L733.96,332.70 L735.82,332.71 L737.68,332.72 L739.55,332.73 L741.42,332.74 L743.29,332.75 L745.16,332.76 L747.04,332.77 L748.92,332.78 L750.80,332.79 L752.69,332.80 L754.58,332.81 L756.47,332.82 L758.36,332.83 L760.26,332.84 L762.16,332.85 L764.06,332.86 L765.97,332.87 L767.88,332.88 L769.79,332.88 L771.70,332.89 L773.62,332.90 L775.54,332.91 L777.46,332.92 L779.39,332.93 L781.31,332.94 L783.25,332.95 L785.18,332.95 L787.12,332.96 L789.06,332.97 L791.00,332.98 L792.94,332.99 L794.89,332.99 L796.84,333.00 L798.80,333.01 L800.75,333.02 L802.71,333.03 L804.67,333.03 L806.64,333.04 L808.61,333.05 L810.58,333.06 L812.55,333.06" stroke="#3a7d2c" stroke-width="4" stroke-linecap="round" stroke-dasharray="0 14 13.33 14"/>
<path d="M122.35,129.81 L122.35,129.82 L122.36,129.86 L122.36,129.91 L122.37,129.99 L122.39,130.09 L122.40,130.21 L122.42,130.35 L122.44,130.51 L122.46,130.69 L122.49,130.90 L122.52,131.13 L122.55,131.37 L122.59,131.64 L122.63,131.93 L122.67,132.24 L122.71,132.57 L122.76,132.92 L122.81,133.29 L122.86,133.68 L122.92,134.09 L122.97,134.52 L123.03,134.96 L123.10,135.43 L123.16,135.91 L123.23,136.41 L123.30,136.93 L123.38,137.47 L123.46,138.02 L123.54,138.59 L123.62,139.18 L123.71,139.78 L123.80,140.40 L123.89,141.03 L123.98,141.68 L124.08,142.35 L124.18,143.03 L124.28,143.72 L124.39,144.42 L124.50,145.14 L124.61,145.87 L124.72,146.62 L124.84,147.37 L124.96,148.14 L125.08,148.92 L125.21,149.71 L125.34,150.51 L125.47,151.33 L125.60,152.15 L125.74,152.98 L125.88,153.82 L126.02,154.67 L126.17,155.53 L126.32,156.39 L126.47,157.27 L126.62,158.15 L126.78,159.04 L126.94,159.93 L127.10,160.83 L127.27,161.74 L127.44,162.66 L127.61,163.58 L127.78,164.50 L127.96,165.43 L128.14,166.36 L128.32,167.30 L128.50,168.24 L128.69,169.19 L128.88,170.14 L129.08,171.09 L129.27,172.04 L129.47,173.00 L129.67,173.96 L129.88,174.92 L130.09,175.89 L130.30,176.85 L130.51,177.82 L130.73,178.79 L130.94,179.75 L131.17,180.72 L131.39,181.69 L131.62,182.66 L131.85,183.63 L132.08,184.60 L132.32,185.57 L132.56,186.54 L132.80,187.50 L133.04,188.47 L133.29,189.44 L133.54,190.40 L133.79,191.36 L134.05,192.32 L134.31,193.28 L134.57,194.24 L134.83,195.20 L135.10,196.15 L135.37,197.10 L135.64,198.05 L135.92,199.00 L136.19,199.94 L136.48,200.88 L136.76,201.82 L137.05,202.75 L137.34,203.69 L137.63,204.61 L137.92,205.54 L138.22,206.46 L138.52,207.38 L138.83,208.29 L139.13,209.21 L139.44,210.11 L139.75,211.02 L140.07,211.92 L140.39,212.81 L140.71,213.71 L141.03,214.59 L141.36,215.48 L141.69,216.36 L142.02,217.24 L142.35,218.11 L142.69,218.98 L143.03,219.84 L143.38,220.70 L143.72,221.55 L144.07,222.40 L144.42,223.25 L144.78,224.09 L145.13,224.93 L145.49,225.76 L145.86,226.59 L146.22,227.41 L146.59,228.23 L146.96,229.04 L147.34,229.85 L147.71,230.66 L148.09,231.46 L148.48,232.25 L148.86,233.05 L149.25,233.83 L149.64,234.61 L150.04,235.39 L150.43,236.16 L150.83,236.93 L151.24,237.69 L151.64,238.45 L152.05,239.21 L152.46,239.95 L152.87,240.70 L153.29,241.44 L153.71,242.17 L154.13,242.90 L154.56,243.63 L154.99,244.35 L155.42,245.06 L155.85,245.77 L156.29,246.48 L156.73,247.18 L157.17,247.88 L157.61,248.57 L158.06,249.26 L158.51,249.94 L158.97,250.62 L159.42,251.30 L159.88,251.97 L160.34,252.63 L160.81,253.29 L161.28,253.95 L161.75,254.60 L162.22,255.25 L162.70,255.89 L163.17,256.53 L163.66,257.16 L164.14,257.79 L164.63,258.41 L165.12,259.03 L165.61,259.65 L166.11,260.26 L166.61,260.86 L167.11,261.47 L167.61,262.06 L168.12,262.66 L168.63,263.25 L169.14,263.83 L169.66,264.41 L170.18,264.99 L170.70,265.56 L171.22,266.13 L171.75,266.69 L172.28,267.25 L172.81,267.81 L173.35,268.36 L173.88,268.91 L174.42,269.45 L174.97,269.99 L175.51,270.53 L176.06,271.06 L176.62,271.58 L177.17,272.11 L177.73,272.63 L178.29,273.14 L178.85,273.65 L179.42,274.16 L179.99,274.66 L180.56,275.16 L181.14,275.66 L181.71,276.15 L182.30,276.64 L182.88,277.12 L183.46,277.60 L184.05,278.08 L184.65,278.55 L185.24,279.02 L185.84,279.49 L186.44,279.95 L187.04,280.41 L187.65,280.86 L188.26,281.31 L188.87,281.76 L189.48,282.20 L190.10,282.64 L190.72,283.08 L191.34,283.52 L191.97,283.95 L192.60,284.37 L193.23,284.79 L193.86,285.21 L194.50,285.63 L195.14,286.04 L195.78,286.45 L196.43,286.86 L197.08,287.26 L197.73,287.66 L198.38,288.06 L199.04,288.45 L199.70,288.84 L200.36,289.23 L201.03,289.61 L201.69,289.99 L202.37,290.37 L203.04,290.75 L203.72,291.12 L204.40,291.48 L205.08,291.85 L205.76,292.21 L206.45,292.57 L207.14,292.93 L207.84,293.28 L208.53,293.63 L209.23,293.98 L209.93,294.32 L210.64,294.66 L211.35,295.00 L212.06,295.34 L212.77,295.67 L213.49,296.00 L214.20,296.33 L214.93,296.65 L215.65,296.97 L216.38,297.29 L217.11,297.61 L217.84,297.92 L218.58,298.23 L219.32,298.54 L220.06,298.85 L220.80,299.15 L221.55,299.45 L222.30,299.75 L223.05,300.05 L223.81,300.34 L224.57,300.63 L225.33,300.92 L226.09,301.20 L226.86,301.48 L227.63,301.77 L228.40,302.04 L229.18,302.32 L229.96,302.59 L230.74,302.86 L231.52,303.13 L232.31,303.40 L233.10,303.66 L233.89,303.92 L234.69,304.18 L235.48,304.44 L236.29,304.69 L237.09,304.95 L237.90,305.20 L238.70,305.45 L239.52,305.69 L240.33,305.94 L241.15,306.18 L241.97,306.42 L242.79,306.65 L243.62,306.89 L244.45,307.12 L245.28,307.35 L246.12,307.58 L246.95,307.81 L247.79,308.04 L248.64,308.26 L249.48,308.48 L250.33,308.70 L251.19,308.92 L252.04,309.13 L252.90,309.35 L253.76,309.56 L254.62,309.77 L255.49,309.98 L256.36,310.18 L257.23,310.39 L258.10,310.59 L258.98,310.79 L259.86,310.99 L260.74,311.18 L261.63,311.38 L262.52,311.57 L263.41,311.76 L264.30,311.95 L265.20,312.14 L266.10,312.33 L267.00,312.51 L267.91,312.70 L268.81,312.88 L269.73,313.06 L270.64,313.24 L271.56,313.42 L272.48,313.59 L273.40,313.76 L274.32,313.94 L275.25,314.11 L276.18,314.28 L277.12,314.44 L278.05,314.61 L278.99,314.77 L279.93,314.94 L280.88,315.10 L281.83,315.26 L282.78,315.42 L283.73,315.57 L284.69,315.73 L285.65,315.88 L286.61,316.04 L287.57,316.19 L288.54,316.34 L289.51,316.49 L290.49,316.63 L291.46,316.78 L292.44,316.93 L293.42,317.07 L294.41,317.21 L295.39,317.35 L296.38,317.49 L297.38,317.63 L298.37,317.77 L299.37,317.90 L300.37,318.04 L301.38,318.17 L302.39,318.30 L303.40,318.43 L304.41,318.56 L305.42,318.69 L306.44,318.82 L307.46,318.95 L308.49,319.07 L309.51,319.19 L310.54,319.32 L311.58,319.44 L312.61,319.56 L313.65,319.68 L314.69,319.80 L315.74,319.91 L316.78,320.03 L317.83,320.15 L318.88,320.26 L319.94,320.37 L321.00,320.49 L322.06,320.60 L323.12,320.71 L324.19,320.82 L325.26,320.92 L326.33,321.03 L327.41,321.14 L328.48,321.24 L329.56,321.35 L330.65,321.45 L331.73,321.55 L332.82,321.65 L333.91,321.75 L335.01,321.85 L336.11,321.95 L337.21,322.05 L338.31,322.15 L339.42,322.24 L340.53,322.34 L341.64,322.43 L342.75,322.52 L343.87,322.62 L344.99,322.71 L346.11,322.80 L347.24,322.89 L348.37,322.98 L349.50,323.07 L350.63,323.15 L351.77,323.24 L352.91,323.33 L354.05,323.41 L355.20,323.50 L356.35,323.58 L357.50,323.66 L358.65,323.75 L359.81,323.83 L360.97,323.91 L362.13,323.99 L363.30,324.07 L364.46,324.14 L365.64,324.22 L366.81,324.30 L367.99,324.38 L369.17,324.45 L370.35,324.53 L371.53,324.60 L372.72,324.67 L373.91,324.75 L375.11,324.82 L376.30,324.89 L377.50,324.96 L378.70,325.03 L379.91,325.10 L381.12,325.17 L382.33,325.24 L383.54,325.31 L384.76,325.37 L385.98,325.44 L387.20,325.51 L388.42,325.57 L389.65,325.64 L390.88,325.70 L392.11,325.77 L393.35,325.83 L394.59,325.89 L395.83,325.95 L397.07,326.01 L398.32,326.08 L399.57,326.14 L400.83,326.20 L402.08,326.25 L403.34,326.31 L404.60,326.37 L405.87,326.43 L407.13,326.49 L408.40,326.54 L409.68,326.60 L410.95,326.65 L412.23,326.71 L413.51,326.76 L414.79,326.82 L416.08,326.87 L417.37,326.92 L418.66,326.98 L419.96,327.03 L421.26,327.08 L422.56,327.13 L423.86,327.18 L425.17,327.23 L426.48,327.28 L427.79,327.33 L429.11,327.38 L430.42,327.43 L431.74,327.48 L433.07,327.53 L434.39,327.57 L435.72,327.62 L437.06,327.67 L438.39,327.71 L439.73,327.76 L441.07,327.80 L442.41,327.85 L443.76,327.89 L445.11,327.94 L446.46,327.98 L447.81,328.03 L449.17,328.07 L450.53,328.11 L451.90,328.15 L453.26,328.19 L454.63,328.24 L456.00,328.28 L457.38,328.32 L458.75,328.36 L460.13,328.40 L461.52,328.44 L462.90,328.48 L464.29,328.52 L465.68,328.55 L467.08,328.59 L468.47,328.63 L469.87,328.67 L471.28,328.71 L472.68,328.74 L474.09,328.78 L475.50,328.82 L476.92,328.85 L478.33,328.89 L479.75,328.92 L481.17,328.96 L482.60,328.99 L484.03,329.03 L485.46,329.06 L486.89,329.09 L488.33,329.13 L489.77,329.16 L491.21,329.19 L492.66,329.23 L494.10,329.26 L495.55,329.29 L497.01,329.32 L498.46,329.36 L499.92,329.39 L501.39,329.42 L502.85,329.45 L504.32,329.48 L505.79,329.51 L507.26,329.54 L508.74,329.57 L510.22,329.60 L511.70,329.63 L513.18,329.66 L514.67,329.69 L516.16,329.71 L517.65,329.74 L519.15,329.77 L520.65,329.80 L522.15,329.83 L523.66,329.85 L525.16,329.88 L526.67,329.91 L528.19,329.93 L529.70,329.96 L531.22,329.99 L532.74,330.01 L534.27,330.04 L535.79,330.06 L537.32,330.09 L538.86,330.11 L540.39,330.14 L541.93,330.16 L543.47,330.19 L545.01,330.21 L546.56,330.24 L548.11,330.26 L549.66,330.28 L551.22,330.31 L552.78,330.33 L554.34,330.35 L555.90,330.38 L557.47,330.40 L559.04,330.42 L560.61,330.44 L562.18,330.46 L563.76,330.49 L565.34,330.51 L566.93,330.53 L568.51,330.55 L570.10,330.57 L571.69,330.59 L573.29,330.61 L574.89,330.64 L576.49,330.66 L578.09,330.68 L579.70,330.70 L581.31,330.72 L582.92,330.74 L584.53,330.76 L586.15,330.77 L587.77,330.79 L589.39,330.81 L591.02,330.83 L592.65,330.85 L594.28,330.87 L595.91,330.89 L597.55,330.91 L599.19,330.93 L600.83,330.94 L602.48,330.96 L604.13,330.98 L605.78,331.00 L607.43,331.01 L609.09,331.03 L610.75,331.05 L612.41,331.07 L614.08,331.08 L615.75,331.10 L617.42,331.12 L619.09,331.13 L620.77,331.15 L622.45,331.17 L624.13,331.18 L625.81,331.20 L627.50,331.21 L629.19,331.23 L630.89,331.24 L632.58,331.26 L634.28,331.28 L635.99,331.29 L637.69,331.31 L639.40,331.32 L641.11,331.34 L642.82,331.35 L644.54,331.37 L646.26,331.38 L647.98,331.39 L649.70,331.41 L651.43,331.42 L653.16,331.44 L654.90,331.45 L656.63,331.46 L658.37,331.48 L660.11,331.49 L661.86,331.51 L663.60,331.52 L665.36,331.53 L667.11,331.55 L668.86,331.56 L670.62,331.57 L672.38,331.58 L674.15,331.60 L675.92,331.61 L677.69,331.62 L679.46,331.64 L681.23,331.65 L683.01,331.66 L684.79,331.67 L686.58,331.68 L688.37,331.70 L690.15,331.71 L691.95,331.72 L693.74,331.73 L695.54,331.74 L697.34,331.75 L699.15,331.77 L700.95,331.78 L702.76,331.79 L704.57,331.80 L706.39,331.81 L708.21,331.82 L710.03,331.83 L711.85,331.84 L713.68,331.85 L715.51,331.87 L717.34,331.88 L719.18,331.89 L721.01,331.90 L722.85,331.91 L724.70,331.92 L726.54,331.93 L728.39,331.94 L730.24,331.95 L732.10,331.96 L733.96,331.97 L735.82,331.98 L737.68,331.99 L739.55,332.00 L741.42,332.01 L743.29,332.02 L745.16,332.03 L747.04,332.03 L748.92,332.04 L750.80,332.05 L752.69,332.06 L754.58,332.07 L756.47,332.08 L758.36,332.09 L760.26,332.10 L762.16,332.11 L764.06,332.12 L765.97,332.12 L767.88,332.13 L769.79,332.14 L771.70,332.15 L773.62,332.16 L775.54,332.17 L777.46,332.17 L779.39,332.18 L781.31,332.19 L783.25,332.20 L785.18,332.21 L787.12,332.22 L789.06,332.22 L791.00,332.23 L792.94,332.24 L794.89,332.25 L796.84,332.25 L798.80,332.26 L800.75,332.27 L802.71,332.28 L804.67,332.28 L806.64,332.29 L808.61,332.30 L810.58,332.31 L812.55,332.31" stroke="#ea1c24" stroke-width="4.1"/>
</g>
<line x1="125.48" y1="334.29" x2="812.55" y2="334.29" stroke="#000" stroke-width="1.4" stroke-dasharray="1.45 3.43"/>
<g fill="none">
<path d="M352.8,63.5 H470" stroke="#9e4406" stroke-width="5.4" stroke-linecap="round" stroke-dasharray="0 19.47"/>
<path d="M352.8,113.9 H477.2" stroke="#3a7d2c" stroke-width="4" stroke-linecap="round" stroke-dasharray="0 14 13.33 14"/>
<path d="M592.8,63.7 H717.2" stroke="#2b2b90" stroke-width="4.1" stroke-dasharray="14.2 13.3"/>
<path d="M592.8,113.9 H717.2" stroke="#ea1c24" stroke-width="4.1"/>
</g>
<g>
<text transform="matrix(0.9701 0 0 1.0098 50.94 21.35)" font-size="30">0.15</text>
<text transform="matrix(0.9800 0 0 1.0196 50.72 128.54)" font-size="30">0.10</text>
<text transform="matrix(0.9780 0 0 1.0147 50.53 235.04)" font-size="30">0.05</text>
<text transform="matrix(1.0238 0 0 1.0123 86.97 341.80)" font-size="30">0</text>
<text transform="matrix(0.9780 0 0 1.0147 50.43 448.34)" font-size="30">0.05</text>
<text transform="matrix(1.2903 0 0 1.0000 28.86 450.50)" font-size="30">−</text>
<text transform="matrix(1.0159 0 0 1.0173 114.48 480.89)" font-size="30">0</text>
<text transform="matrix(1.0833 0 0 1.0152 252.44 480.80)" font-size="30">2</text>
<text transform="matrix(0.9462 0 0 1.0256 391.03 480.95)" font-size="30">4</text>
<text transform="matrix(1.0039 0 0 1.0249 528.94 480.89)" font-size="30">6</text>
<text transform="matrix(1.0317 0 0 1.0173 666.86 480.89)" font-size="30">8</text>
<text transform="matrix(0.9425 0 0 1.0173 797.76 480.89)" font-size="30">10</text>
</g>
<g>
<text transform="matrix(1.0308 0 0 1.0691 395.50 517.67)" font-size="30" font-style="italic">Q</text>
<text transform="matrix(0.7250 0 0 0.6364 418.22 506.40)" font-size="30">2</text>
<text transform="matrix(0.9477 0 0 1.1074 450.17 517.92)" font-size="30">(</text>
<text transform="matrix(0.9827 0 0 1.0815 460.12 517.91)" font-size="30">GeV</text>
<text transform="matrix(0.7250 0 0 0.6414 516.32 506.50)" font-size="30">2</text>
<text transform="matrix(0.9231 0 0 1.1074 528.27 517.92)" font-size="30">)</text>
</g>
<g>
<text transform="translate(23.20 391.44) rotate(-90) scale(1.0339 1.0333)" font-size="30">Quark</text>
<text transform="translate(23.20 303.49) rotate(-90) scale(0.9883 1.0333)" font-size="30">Body</text>
<text transform="translate(23.20 229.01) rotate(-90) scale(1.0126 1.0333)" font-size="30">Form</text>
<text transform="translate(23.20 152.91) rotate(-90) scale(1.0139 1.0333)" font-size="30">Factors</text>
</g>
<defs><g id="gf" fill="#000" stroke="none"><title>f</title><path d="M13.92,2.50 L14.03,1.85 L13.85,1.24 L13.50,0.70 L13.01,0.29 L12.40,0.05 L11.71,0.10 L11.11,0.40 L10.63,0.83 L10.28,1.34 L10.03,1.85 L9.85,2.33 L9.69,2.78 L9.53,3.22 L9.38,3.67 L9.24,4.13 L9.10,4.59 L8.98,5.05 L8.86,5.52 L8.75,5.99 L8.65,6.46 L8.55,6.93 L8.46,7.40 L8.37,7.86 L8.27,8.32 L8.18,8.79 L8.09,9.25 L7.99,9.71 L7.89,10.17 L7.79,10.63 L7.69,11.09 L7.59,11.56 L7.49,12.02 L7.39,12.48 L7.29,12.95 L7.19,13.41 L7.09,13.88 L6.99,14.34 L6.89,14.80 L6.79,15.27 L6.70,15.73 L6.60,16.20 L6.51,16.66 L6.41,17.13 L6.32,17.59 L6.23,18.06 L6.14,18.52 L6.05,18.98 L5.96,19.45 L5.88,19.91 L5.79,20.37 L5.70,20.84 L5.61,21.30 L5.52,21.75 L5.43,22.20 L5.34,22.65 L5.25,23.10 L5.15,23.54 L5.05,23.97 L4.94,24.38 L4.79,24.79 L4.62,25.19 L4.41,25.56 L4.17,25.86 L3.90,26.05 L3.58,26.14 L3.22,26.11 L2.88,25.97 L2.61,25.76 L2.43,25.47 L1.67,25.73 L1.98,26.29 L2.45,26.70 L3.01,26.93 L3.62,27.00 L4.22,26.90 L4.77,26.64 L5.23,26.28 L5.62,25.86 L5.95,25.42 L6.24,24.97 L6.48,24.51 L6.70,24.05 L6.88,23.59 L7.05,23.13 L7.21,22.67 L7.35,22.20 L7.49,21.74 L7.61,21.27 L7.73,20.80 L7.84,20.34 L7.96,19.87 L8.06,19.41 L8.17,18.95 L8.27,18.48 L8.38,18.02 L8.48,17.56 L8.58,17.09 L8.68,16.63 L8.78,16.17 L8.87,15.71 L8.97,15.24 L9.07,14.78 L9.17,14.32 L9.27,13.86 L9.36,13.39 L9.46,12.93 L9.56,12.47 L9.66,12.00 L9.76,11.54 L9.86,11.08 L9.96,10.61 L10.06,10.15 L10.16,9.68 L10.26,9.21 L10.35,8.75 L10.45,8.28 L10.54,7.81 L10.64,7.35 L10.73,6.89 L10.82,6.43 L10.91,5.97 L11.00,5.52 L11.09,5.06 L11.18,4.61 L11.26,4.15 L11.35,3.68 L11.42,3.21 L11.49,2.72 L11.54,2.27 L11.60,1.88 L11.69,1.54 L11.85,1.24 L12.08,1.00 L12.30,0.92 L12.57,1.00 L12.86,1.25 L13.08,1.60 L13.18,1.94 L13.18,2.20Z"/><rect x="4.7" y="8.15" width="8.3" height="0.95"/><circle cx="13.5" cy="2.75" r="1.25"/><circle cx="1.95" cy="24.75" r="1.25"/></g></defs>
<g>
<use href="#gf" x="492.30" y="50.00"/><text transform="matrix(0.6381 0 0 0.6209 505.58 77.70)" font-size="30">1</text><text transform="matrix(0.6928 0 0 0.7593 508.76 56.52)" font-size="30">(</text><text transform="matrix(0.6288 0 0 0.6127 515.94 56.14)" font-size="30" font-style="italic">q</text><text transform="matrix(0.6923 0 0 0.7593 526.18 56.52)" font-size="30">)</text>
<use href="#gf" x="492.30" y="100.50"/><text transform="matrix(0.6381 0 0 0.6209 505.58 128.20)" font-size="30">1</text><text transform="matrix(0.6928 0 0 0.7593 508.76 107.02)" font-size="30">(</text><text transform="matrix(0.7436 0 0 0.6165 516.09 106.92)" font-size="30" font-style="italic">π</text><text transform="matrix(0.6923 0 0 0.7593 528.88 107.02)" font-size="30">)</text>
<use href="#gf" x="732.50" y="50.00"/><text transform="matrix(0.6917 0 0 0.6061 745.27 77.70)" font-size="30">2</text><text transform="matrix(0.6928 0 0 0.7593 748.96 56.52)" font-size="30">(</text><text transform="matrix(0.6288 0 0 0.6127 756.14 56.14)" font-size="30" font-style="italic">q</text><text transform="matrix(0.6923 0 0 0.7593 766.38 56.52)" font-size="30">)</text>
<use href="#gf" x="732.50" y="100.50"/><text transform="matrix(0.6917 0 0 0.6061 745.27 128.20)" font-size="30">2</text><text transform="matrix(0.6928 0 0 0.7593 748.96 107.02)" font-size="30">(</text><text transform="matrix(0.7436 0 0 0.6165 756.29 106.92)" font-size="30" font-style="italic">π</text><text transform="matrix(0.6923 0 0 0.7593 769.08 107.02)" font-size="30">)</text>
</g>
</svg></body></html>
